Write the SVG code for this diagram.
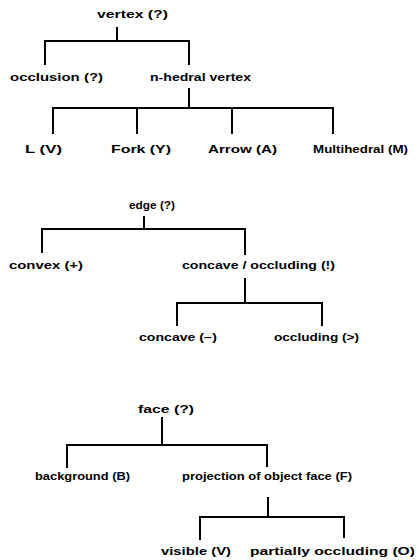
<svg xmlns="http://www.w3.org/2000/svg" width="420" height="560" viewBox="0 0 420 560">
<style>
text{font-family:"Liberation Sans",Arial,sans-serif;font-weight:bold;font-size:10px;fill:#000}
.c{fill:none;stroke:#000;stroke-width:2}
</style>
<rect width="420" height="560" fill="#fff"/>
<g id="connectors">
<path class="c" d="M117 27V41M45 65V41H189V65"/>
<path class="c" d="M189 88V108M53 134V108H333V134M137 108V134M232 108V134"/>
<path class="c" d="M144 216V229M42 253V229H245V255"/>
<path class="c" d="M245 278V303M177 326V303H322V326"/>
<path class="c" d="M162 417V445M67 468V445H267V467"/>
<path class="c" d="M268 497V517M200 540V517H344V538"/>
</g>
<g id="vertex"><text x="97" y="18" textLength="71" lengthAdjust="spacingAndGlyphs">vertex  (?)</text></g>
<g id="occlusion"><text x="10" y="81" textLength="93" lengthAdjust="spacingAndGlyphs">occlusion  (?)</text></g>
<g id="nhedral"><text x="150" y="81" textLength="101" lengthAdjust="spacingAndGlyphs">n-hedral vertex</text></g>
<g id="L"><text x="25" y="153" textLength="37" lengthAdjust="spacingAndGlyphs">L  (V)</text></g>
<g id="fork"><text x="111" y="153" textLength="60" lengthAdjust="spacingAndGlyphs">Fork  (Y)</text></g>
<g id="arrow"><text x="208" y="153" textLength="69" lengthAdjust="spacingAndGlyphs">Arrow  (A)</text></g>
<g id="multihedral"><text x="313" y="153" textLength="95" lengthAdjust="spacingAndGlyphs">Multihedral (M)</text></g>
<g id="edge"><text x="129" y="209" textLength="46" lengthAdjust="spacingAndGlyphs">edge  (?)</text></g>
<g id="convex"><text x="9" y="269" textLength="74" lengthAdjust="spacingAndGlyphs">convex  (+)</text></g>
<g id="concocc"><text x="182" y="269" textLength="153" lengthAdjust="spacingAndGlyphs">concave / occluding (!)</text></g>
<g id="concave"><text x="139" y="341" textLength="78" lengthAdjust="spacingAndGlyphs">concave (−)</text></g>
<g id="occluding"><text x="274" y="341" textLength="85" lengthAdjust="spacingAndGlyphs">occluding (&gt;)</text></g>
<g id="face"><text x="138" y="413" textLength="56" lengthAdjust="spacingAndGlyphs">face  (?)</text></g>
<g id="background"><text x="35" y="480" textLength="95" lengthAdjust="spacingAndGlyphs">background  (B)</text></g>
<g id="projection"><text x="182" y="480" textLength="170" lengthAdjust="spacingAndGlyphs">projection of object face (F)</text></g>
<g id="visible"><text x="161" y="555" textLength="70" lengthAdjust="spacingAndGlyphs">visible  (V)</text></g>
<g id="partially"><text x="250" y="555" textLength="165" lengthAdjust="spacingAndGlyphs">partially occluding (O)</text></g>
</svg>
